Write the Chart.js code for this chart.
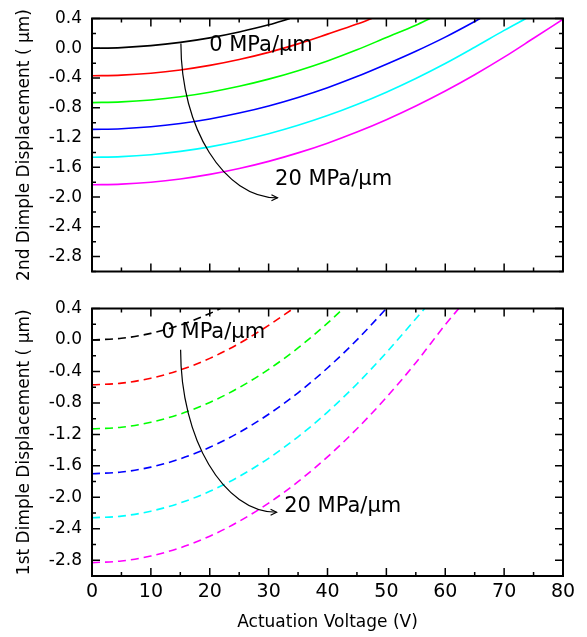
<!DOCTYPE html>
<html>
<head>
<meta charset="utf-8">
<script src="https://cdn.jsdelivr.net/npm/chart.js@4.4.1/dist/chart.umd.min.js"></script>
<style>
  body { margin: 0; background: #fff; }
  .panel { position: absolute; left: 0; }
</style>
</head>
<body>
<div class="panel" style="top:0"><canvas id="topChart" width="587" height="290"></canvas></div>
<div class="panel" style="top:290px"><canvas id="bottomChart" width="587" height="347"></canvas></div>

<script>
// ===== data =====
// voltage grid (V); the last value of each series is where the curve leaves the frame
const volts = [0, 5, 10, 15, 20, 25, 30, 35, 40, 45, 50, 55, 60, 65, 70, 75, 80];
const xTicks = [0, 10, 20, 30, 40, 50, 60, 70, 80];
const yTicks = [-2.8, -2.4, -2.0, -1.6, -1.2, -0.8, -0.4, 0.0, 0.4];
const colors = ['#000000', '#ff0000', '#00ff00', '#0000ff', '#00ffff', '#ff00ff'];

// 2nd dimple (top, solid), 0 -> 20 MPa/um
const topExitV = [33.6, 47.5, 57.4, 65.9, 73.7, 80];
const top2Black = [0, 0.009, 0.035, 0.079, 0.14, 0.219, 0.315, 0.4];
const top2Red = [-0.37, -0.361, -0.335, -0.291, -0.23, -0.151, -0.055, 0.059, 0.19, 0.325, 0.4];
const top2Green = [-0.73, -0.721, -0.695, -0.651, -0.59, -0.511, -0.415, -0.301, -0.17, -0.021, 0.145, 0.31, 0.4];
const top2Blue = [-1.09, -1.081, -1.055, -1.011, -0.95, -0.871, -0.775, -0.661, -0.53, -0.381, -0.215, -0.04, 0.15, 0.36, 0.4];
const top2Cyan = [-1.465, -1.456, -1.43, -1.386, -1.325, -1.246, -1.15, -1.036, -0.905, -0.756, -0.59, -0.406, -0.205, 0.014, 0.24, 0.4];
const top2Magenta = [-1.835, -1.826, -1.8, -1.756, -1.695, -1.616, -1.52, -1.406, -1.275, -1.126, -0.96, -0.776, -0.575, -0.356, -0.12, 0.134, 0.39];

// 1st dimple (bottom, dashed)
const botExitV = [21.8, 34.2, 42.7, 50, 56.5, 62.3];
const bot1Black = [0, 0.021, 0.084, 0.189, 0.336, 0.4];
const bot1Red = [-0.57, -0.549, -0.486, -0.381, -0.234, -0.045, 0.186, 0.4];
const bot1Green = [-1.13, -1.109, -1.046, -0.941, -0.794, -0.605, -0.374, -0.101, 0.214, 0.4];
const bot1Blue = [-1.7, -1.679, -1.616, -1.511, -1.364, -1.175, -0.944, -0.671, -0.356, 0.001, 0.4];
const bot1Cyan = [-2.26, -2.239, -2.176, -2.071, -1.924, -1.735, -1.504, -1.231, -0.916, -0.559, -0.16, 0.27, 0.4];
const bot1Magenta = [-2.83, -2.809, -2.746, -2.641, -2.494, -2.305, -2.074, -1.801, -1.486, -1.129, -0.73, -0.289, 0.194, 0.4];

// annotations, in data units (V, um)
const topNotes = [
  { text: '0 MPa/\u00b5m', x: 19.9, y: 0.04 },
  { text: '20 MPa/\u00b5m', x: 31.1, y: -1.76 },
];
const topArrow = { from: [15.1, 0.063], to: [31.5, -2.01] };
const botNotes = [
  { text: '0 MPa/\u00b5m', x: 11.8, y: 0.094 },
  { text: '20 MPa/\u00b5m', x: 32.65, y: -2.12 },
];
const botArrow = { from: [15.05, -0.125], to: [31.35, -2.19] };

const FONT = "'DejaVu Sans', sans-serif";

function series(vals, exitV) {
  return vals.map((d, i) => ({ x: i < vals.length - 1 ? volts[i] : exitV, y: d }));
}

function makeDatasets(list, exits, dashed) {
  return list.map((vals, i) => ({
    data: series(vals, exits[i]),
    borderColor: colors[i],
    borderWidth: 1.6,
    borderDash: dashed ? [8, 5] : [],
    pointRadius: 0,
    cubicInterpolationMode: 'monotone',
    fill: false,
  }));
}

// frame with inward ticks, axis titles, labels and curved arrow
function decorPlugin(cfg) {
  return {
    id: 'decor',
    afterDatasetsDraw(chart) {
      const { ctx, chartArea: a, scales } = chart;
      const xs = scales.x, ys = scales.y;
      ctx.save();
      ctx.strokeStyle = '#000';
      ctx.fillStyle = '#000';

      // ticks
      ctx.lineWidth = 1.5;
      ctx.beginPath();
      for (let v = 0; v <= 80; v += 5) {
        const px = xs.getPixelForValue(v);
        const len = v % 10 === 0 ? 8 : 4;
        ctx.moveTo(px, a.bottom); ctx.lineTo(px, a.bottom - len);
        ctx.moveTo(px, a.top); ctx.lineTo(px, a.top + len);
      }
      for (let k = 0; k <= 17; k++) {
        const v = -3.0 + k * 0.2;
        const py = ys.getPixelForValue(v);
        const len = k % 2 === 1 ? 8 : 4;
        ctx.moveTo(a.left, py); ctx.lineTo(a.left + len, py);
        ctx.moveTo(a.right, py); ctx.lineTo(a.right - len, py);
      }
      ctx.stroke();

      // frame
      ctx.lineWidth = 2;
      ctx.strokeRect(a.left, a.top, a.right - a.left, a.bottom - a.top);

      // curved arrow
      const p0 = { x: xs.getPixelForValue(cfg.arrow.from[0]), y: ys.getPixelForValue(cfg.arrow.from[1]) };
      const p3 = { x: xs.getPixelForValue(cfg.arrow.to[0]), y: ys.getPixelForValue(cfg.arrow.to[1]) };
      ctx.lineWidth = 1.2;
      ctx.beginPath();
      ctx.moveTo(p0.x, p0.y);
      ctx.bezierCurveTo(p0.x, p0.y + 0.55 * (p3.y - p0.y), p3.x - 0.55 * (p3.x - p0.x), p3.y, p3.x, p3.y);
      ctx.stroke();
      ctx.beginPath();
      ctx.moveTo(p3.x - 6, p3.y - 3); ctx.lineTo(p3.x, p3.y); ctx.lineTo(p3.x - 6, p3.y + 3);
      ctx.stroke();

      // labels
      ctx.font = '21px ' + FONT;
      ctx.textAlign = 'left';
      ctx.textBaseline = 'middle';
      cfg.notes.forEach((n) => {
        ctx.fillText(n.text, xs.getPixelForValue(n.x), ys.getPixelForValue(n.y));
      });

      // axis titles
      ctx.font = '17px ' + FONT;
      ctx.textAlign = 'center';
      ctx.save();
      ctx.translate(a.left - 67, (a.top + a.bottom) / 2);
      ctx.rotate(-Math.PI / 2);
      ctx.fillText(cfg.yTitle, 0, 0);
      ctx.restore();
      if (cfg.xTitle) {
        ctx.fillText(cfg.xTitle, (a.left + a.right) / 2, a.bottom + 47);
      }
      ctx.restore();
    },
  };
}

function makeChart(id, datasets, opts) {
  return new Chart(document.getElementById(id), {
    type: 'line',
    data: { datasets },
    options: {
      responsive: false,
      animation: false,
      layout: { padding: { top: opts.padTop, right: 24, left: 0, bottom: 0 } },
      plugins: { legend: { display: false }, tooltip: { enabled: false } },
      scales: {
        x: {
          type: 'linear',
          min: 0,
          max: 80,
          afterBuildTicks: (s) => { s.ticks = xTicks.map((v) => ({ value: v })); },
          afterFit: (s) => { s.height = opts.xHeight; },
          grid: { display: false, drawTicks: false },
          border: { display: false },
          ticks: {
            display: opts.showX,
            padding: 5,
            color: '#000',
            font: { size: 19, family: FONT },
            maxRotation: 0,
          },
        },
        y: {
          type: 'linear',
          min: -3.0,
          max: 0.4,
          afterBuildTicks: (s) => { s.ticks = yTicks.map((v) => ({ value: v })); },
          afterFit: (s) => { s.width = 92; },
          grid: { display: false, drawTicks: false },
          border: { display: false },
          ticks: {
            padding: 10,
            color: '#000',
            font: { size: 17, family: FONT, lineHeight: 1 },
            callback: (v) => Number(v).toFixed(1),
          },
        },
      },
    },
    plugins: [decorPlugin(opts.decor)],
  });
}

makeChart('topChart',
  makeDatasets([top2Black, top2Red, top2Green, top2Blue, top2Cyan, top2Magenta], topExitV, false),
  {
    padTop: 10, xHeight: 11, showX: false,
    decor: { notes: topNotes, arrow: topArrow, yTitle: '2nd Dimple Displacement ( \u00b5m)' },
  });

makeChart('bottomChart',
  makeDatasets([bot1Black, bot1Red, bot1Green, bot1Blue, bot1Cyan, bot1Magenta], botExitV, true),
  {
    padTop: 16, xHeight: 61, showX: true,
    decor: { notes: botNotes, arrow: botArrow, yTitle: '1st Dimple Displacement ( \u00b5m)', xTitle: 'Actuation Voltage (V)' },
  });
</script>
</body>
</html>
